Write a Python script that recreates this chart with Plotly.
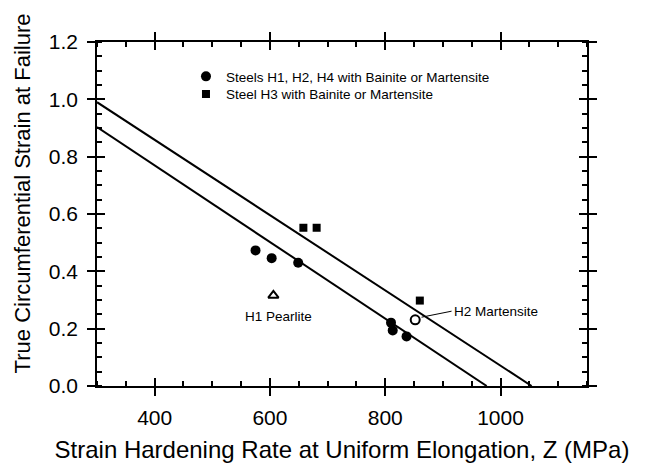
import plotly.graph_objects as go

# ---- data ----
steels_x = [575, 603, 649, 810, 813, 837]
steels_y = [0.473, 0.446, 0.430, 0.221, 0.194, 0.173]
h3_x = [658, 681, 860]
h3_y = [0.552, 0.552, 0.298]
h2_mart_x = [852]
h2_mart_y = [0.231]
h1_pearl_x = [606]
h1_pearl_y = [0.316]
upper_x = [300, 1054]
upper_y = [0.99, 0.0]
lower_x = [300, 976]
lower_y = [0.903, 0.0]

x_ticks = [400, 600, 800, 1000]
y_ticks = [0.0, 0.2, 0.4, 0.6, 0.8, 1.0, 1.2]
y_tick_text = ["0.0", "0.2", "0.4", "0.6", "0.8", "1.0", "1.2"]

FONT = "Liberation Sans, Arial, sans-serif"

fig = go.Figure()
fig.add_trace(go.Scatter(x=upper_x, y=upper_y, mode="lines",
                         line=dict(color="black", width=2), showlegend=False))
fig.add_trace(go.Scatter(x=lower_x, y=lower_y, mode="lines",
                         line=dict(color="black", width=2), showlegend=False))
fig.add_trace(go.Scatter(x=steels_x, y=steels_y, mode="markers",
                         name="Steels H1, H2, H4 with Bainite or Martensite",
                         legend="legend",
                         marker=dict(symbol="circle", size=10, color="black")))
fig.add_trace(go.Scatter(x=h3_x, y=h3_y, mode="markers",
                         name="Steel H3 with Bainite or Martensite",
                         legend="legend2",
                         marker=dict(symbol="square", size=8, color="black")))
fig.add_trace(go.Scatter(x=h2_mart_x, y=h2_mart_y, mode="markers", showlegend=False,
                         marker=dict(symbol="circle-open", size=9, color="black",
                                     line=dict(width=2))))
fig.add_trace(go.Scatter(x=h1_pearl_x, y=h1_pearl_y, mode="markers", showlegend=False,
                         marker=dict(symbol="triangle-up-open", size=9, color="black",
                                     line=dict(width=2))))

# invisible trace on overlay axes so they are drawn
fig.add_trace(go.Scatter(x=[300], y=[0], xaxis="x2", yaxis="y2", mode="markers",
                         marker=dict(opacity=0), showlegend=False, hoverinfo="skip"))

axis_common = dict(showline=True, linecolor="black", linewidth=1.5, mirror="ticks",
                   showgrid=False, zeroline=False, tickcolor="black", tickwidth=1.5,
                   automargin=False)

legend_common = dict(xanchor="left", yanchor="top", bgcolor="rgba(0,0,0,0)",
                     borderwidth=0, font=dict(size=13.5, family=FONT))

fig.update_layout(
    width=648, height=463,
    margin=dict(l=97, r=61, t=42, b=77, autoexpand=False),
    paper_bgcolor="white", plot_bgcolor="white",
    font=dict(family=FONT, color="black"),
    xaxis=dict(range=[300, 1150], tickvals=x_ticks, ticks="outside", ticklen=8,
               tickfont=dict(size=21, family=FONT), ticklabelstandoff=4,
               minor=dict(ticks="inside", dtick=50, tick0=0, ticklen=5,
                          tickcolor="black", tickwidth=1.5),
               title=dict(text="Strain Hardening Rate at Uniform Elongation, Z (MPa)",
                          font=dict(size=24, family=FONT), standoff=16),
               **axis_common),
    yaxis=dict(range=[0, 1.2], tickvals=y_ticks, ticktext=y_tick_text, ticks="outside",
               ticklen=8, tickfont=dict(size=21, family=FONT), ticklabelstandoff=5,
               minor=dict(ticks="inside", dtick=0.05, tick0=0, ticklen=5,
                          tickcolor="black", tickwidth=1.5),
               **axis_common),
    xaxis2=dict(overlaying="x", matches="x", range=[300, 1150], tickvals=x_ticks,
                ticks="inside", ticklen=8, showticklabels=False, side="bottom",
                **axis_common),
    yaxis2=dict(overlaying="y", matches="y", range=[0, 1.2], tickvals=y_ticks,
                ticks="inside", ticklen=8, showticklabels=False, side="left",
                **axis_common),
    legend=dict(x=0.1816, y=0.9445, **legend_common),
    legend2=dict(x=0.1816, y=0.893, **legend_common),
    annotations=[
        dict(x=-0.153, y=0.56, xref="paper", yref="paper",
             text="True Circumferential Strain at Failure", textangle=-90,
             showarrow=False, xanchor="center", yanchor="middle",
             font=dict(size=22, family=FONT)),
        dict(x=614, y=0.243, xref="x", yref="y", text="H1 Pearlite", showarrow=False,
             font=dict(size=13.5, family=FONT)),
        dict(x=863, y=0.240, xref="x", yref="y", text="H2 Martensite", showarrow=True,
             arrowhead=0, arrowwidth=1, arrowcolor="black", ax=30, ay=-6,
             xanchor="left", font=dict(size=13.5, family=FONT)),
    ],
)

fig.write_html("out.html")
